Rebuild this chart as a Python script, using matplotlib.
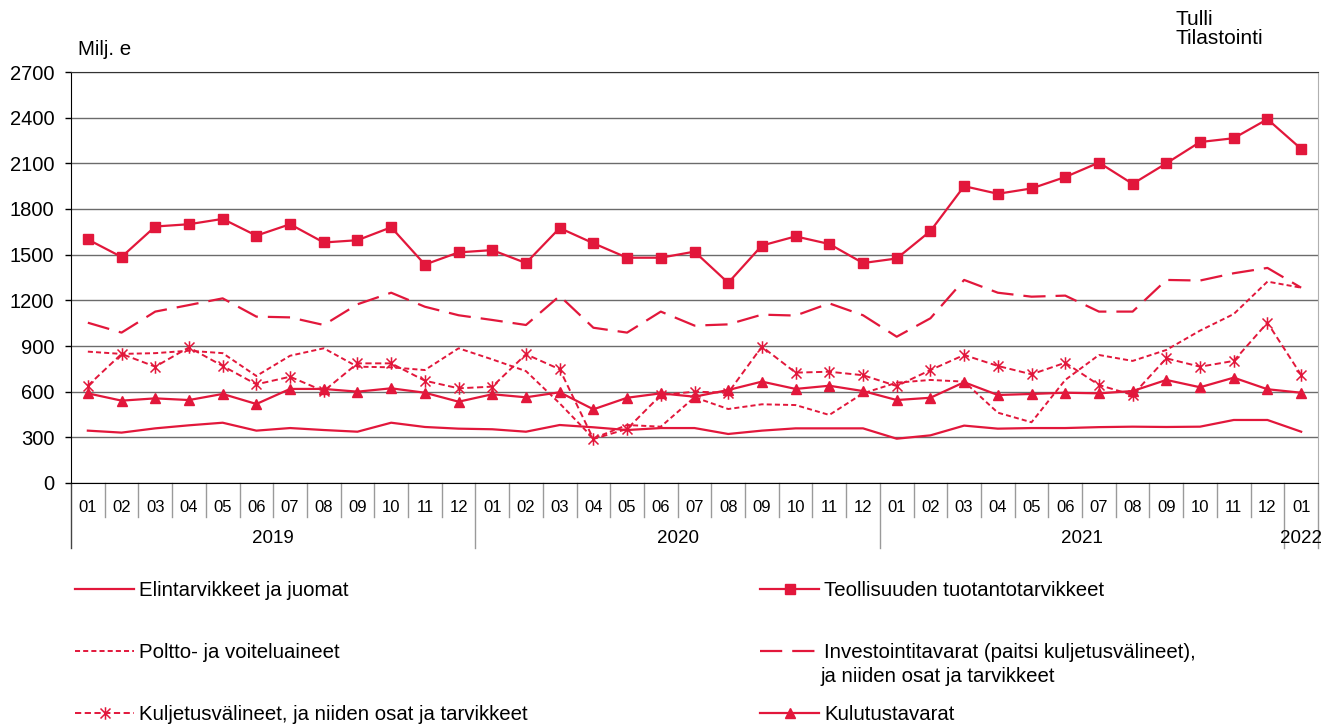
import numpy as np
import matplotlib.pyplot as plt
from matplotlib.path import Path

plt.rcParams['font.family'] = ['Liberation Sans', 'DejaVu Sans']

months = ['01', '02', '03', '04', '05', '06', '07', '08', '09', '10', '11', '12'] * 3 + ['01']
years = ['2019', '2020', '2021', '2022']

elintarvikkeet = [344, 331, 359, 379, 396, 344, 361, 348, 337, 396, 368, 357,
                  353, 337, 381, 366, 348, 361, 361, 322, 344, 359, 359, 359,
                  291, 313, 377, 357, 361, 361, 367, 370, 368, 370, 414, 414,
                  337]
teollisuus = [1600, 1485, 1685, 1700, 1735, 1625, 1700, 1580, 1595, 1680, 1435, 1515,
              1530, 1445, 1675, 1575, 1480, 1480, 1520, 1315, 1560, 1620, 1570, 1445,
              1475, 1655, 1950, 1900, 1935, 2010, 2105, 1965, 2100, 2240, 2265, 2390,
              2195]
poltto = [863, 848, 853, 869, 853, 703, 836, 885, 764, 760, 742, 885,
          812, 735, 523, 293, 381, 370, 563, 486, 517, 512, 447, 589,
          659, 677, 666, 462, 399, 677, 841, 802, 874, 1001, 1110, 1323,
          1283]
investointi = [1053, 988, 1126, 1169, 1213, 1093, 1088, 1038, 1174, 1250, 1158, 1102,
               1071, 1038, 1229, 1020, 988, 1126, 1034, 1042, 1106, 1100, 1180, 1102,
               961, 1082, 1334, 1250, 1224, 1231, 1126, 1126, 1334, 1330, 1378, 1413,
               1283]
kuljetus = [639, 848, 764, 891, 769, 648, 698, 604, 786, 786, 672, 622,
            633, 846, 747, 289, 355, 578, 600, 593, 896, 725, 731, 708,
            637, 742, 841, 769, 714, 790, 644, 578, 819, 764, 802, 1053,
            710]
kulutus = [589, 541, 556, 545, 585, 519, 618, 618, 600, 622, 593, 534,
           583, 563, 596, 484, 560, 589, 567, 611, 666, 618, 639, 604,
           545, 560, 662, 578, 585, 593, 589, 604, 677, 629, 692, 616,
           593]

red = '#E2173B'
x = np.arange(len(months))

# Excel style star: x with a vertical bar
star = Path([(-1, -1), (1, 1), (-1, 1), (1, -1), (0, -1.25), (0, 1.25)],
            [Path.MOVETO, Path.LINETO, Path.MOVETO, Path.LINETO, Path.MOVETO, Path.LINETO])

fig = plt.figure(figsize=(13.36, 7.24), dpi=100)
ax = fig.add_axes([71 / 1336, 1 - 483 / 724, (1318 - 71) / 1336, 411 / 724])

l1, = ax.plot(x, elintarvikkeet, color=red, lw=1.6, label='Elintarvikkeet ja juomat')
l2, = ax.plot(x, teollisuus, color=red, lw=1.6, marker='s', ms=7, label='Teollisuuden tuotantotarvikkeet')
l3, = ax.plot(x, poltto, color=red, lw=1.4, dashes=(2.6, 1.6), label='Poltto- ja voiteluaineet')
l4, = ax.plot(x, investointi, color=red, lw=1.6, dashes=(10, 4.5),
              label='Investointitavarat (paitsi kuljetusvälineet),')
l5, = ax.plot(x, kuljetus, color=red, lw=1.4, dashes=(3.2, 1.8), marker=star, ms=9,
              mew=1.1, label='Kuljetusvälineet, ja niiden osat ja tarvikkeet')
l6, = ax.plot(x, kulutus, color=red, lw=1.6, marker='^', ms=7.5, label='Kulutustavarat')

ax.set_xlim(-0.5, len(months) - 0.5)
ax.set_ylim(0, 2700)
ax.set_yticks(np.arange(0, 2701, 300))
ax.yaxis.grid(True, color='#6b6b6b', lw=1)
ax.set_axisbelow(True)
ax.tick_params(axis='y', labelsize=14.5, length=4, width=1, pad=8)
ax.spines['right'].set_color('#b0b0b0')
ax.spines['top'].set_color('#333333')

ax.set_xticks(x)
ax.set_xticklabels(months)
ax.tick_params(axis='x', length=0, labelsize=12, pad=12)

# category separators below the axis
tr = ax.get_xaxis_transform()
for k in range(len(months) + 1):
    yb = -0.158 if k % 12 == 0 or k == len(months) else -0.083
    col = '#444444' if k == 0 else '#9a9a9a'
    ax.plot([k - 0.5, k - 0.5], [0, yb], color=col, lw=1, transform=tr, clip_on=False)
year_pos = [5.5, 17.5, 29.5, 36]
for yp, yl in zip(year_pos, years):
    ax.text(yp, -0.134, yl, transform=tr, ha='center', va='center', fontsize=13.5)

fig.text(78 / 1336, 1 - 55 / 724, 'Milj. e', fontsize=14.8, va='baseline')
fig.text(1176 / 1336, 1 - 10 / 724, 'Tulli\nTilastointi', fontsize=15, va='top',
         linespacing=1.0)

leg_kw = dict(frameon=False, fontsize=14.7, handlelength=2.9, handletextpad=0.25,
              labelspacing=2.1, borderpad=0, borderaxespad=0, loc='upper left')
leg1 = fig.legend([l1, l3, l5], [l1.get_label(), l3.get_label(), l5.get_label()],
                  bbox_to_anchor=(75 / 1336, 1 - 581 / 724), **leg_kw)
leg2 = fig.legend([l2, l4, l6], [l2.get_label(), l4.get_label(), l6.get_label()],
                  bbox_to_anchor=(760 / 1336, 1 - 581 / 724), **leg_kw)
fig.text(820 / 1336, 1 - 676 / 724, 'ja niiden osat ja tarvikkeet', fontsize=14.7, va='center')

fig.savefig('out.png', dpi=100)
